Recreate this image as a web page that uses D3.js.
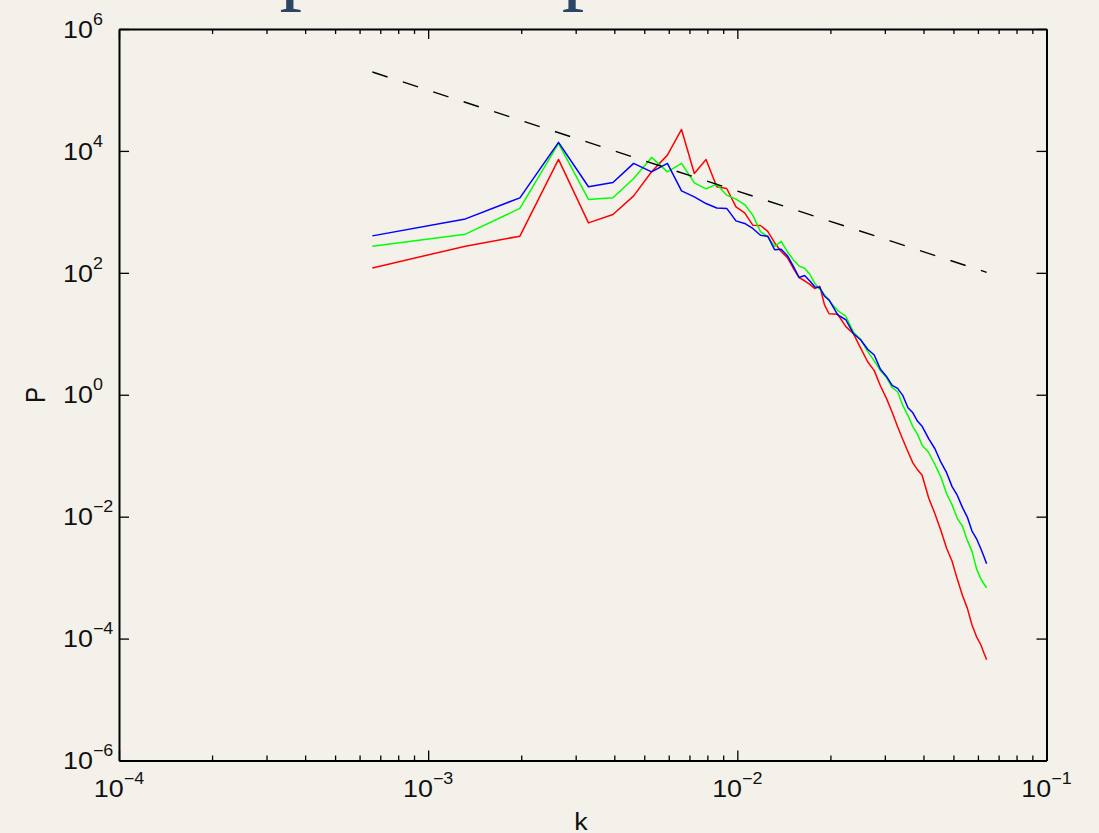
<!DOCTYPE html>
<html>
<head>
<meta charset="utf-8">
<script src="https://cdn.jsdelivr.net/npm/d3@7"></script>
<style>
  html, body { margin: 0; padding: 0; background: #f4f1eb; }
  svg { display: block; }
  text { font-family: "Liberation Sans", Arial, Helvetica, sans-serif; fill: #111; }
</style>
</head>
<body>
<svg id="chart" width="1099" height="833"></svg>
<script>
// Wavenumbers (shared by all three spectra)
const k = [
  6.6e-4, 1.32e-3, 1.98e-3, 2.64e-3, 3.30e-3, 3.96e-3, 4.62e-3, 5.28e-3, 5.94e-3, 6.60e-3,
  7.26e-3, 7.92e-3, 8.58e-3, 9.24e-3, 9.90e-3, 1.056e-2, 1.122e-2, 1.188e-2, 1.254e-2, 1.320e-2,
  1.386e-2, 1.452e-2, 1.518e-2, 1.584e-2, 1.650e-2, 1.716e-2, 1.782e-2, 1.848e-2, 1.914e-2, 1.980e-2,
  2.112e-2, 2.244e-2, 2.376e-2, 2.508e-2, 2.640e-2, 2.772e-2, 2.904e-2, 3.036e-2, 3.168e-2, 3.300e-2,
  3.432e-2, 3.564e-2, 3.696e-2, 3.828e-2, 3.960e-2,
  4.158e-2, 4.356e-2, 4.554e-2, 4.752e-2, 4.950e-2, 5.148e-2, 5.346e-2, 5.544e-2, 5.742e-2, 5.940e-2,
  6.138e-2, 6.270e-2, 6.402e-2
];

// Power spectra P(k)
const pRed = [
  120, 274, 399, 7250, 659, 906, 1830, 4540, 8530, 22500,
  4270, 7250, 2580, 2420, 1210, 964, 605, 597, 480, 312,
  224, 177, 118, 83.4, 74.1, 64.5, 55.2, 60.3, 29.8, 21.3,
  20.9, 13.1, 10.0, 5.78, 3.48, 2.49, 1.39, 0.873, 0.518, 0.299,
  0.183, 0.116, 0.0762, 0.0586, 0.0479,
  0.0203, 0.0112, 0.00593, 0.00303, 0.00186, 0.000937, 0.000514, 0.000316, 0.000167, 0.000107,
  7.85e-5, 5.85e-5, 4.49e-5
];
const pGreen = [
  274, 431, 1140, 13300, 1600, 1700, 3530, 7820, 4540, 6240,
  2990, 2390, 2850, 1880, 1620, 1320, 883, 475, 392, 270,
  329, 222, 163, 129, 119, 94.8, 66.7, 53.8, 43.7, 35.0,
  24.0, 19.4, 10.6, 8.05, 5.14, 3.59, 2.48, 1.93, 1.31, 1.12,
  0.662, 0.454, 0.299, 0.224, 0.148,
  0.113, 0.0718, 0.0446, 0.0238, 0.0156, 0.00931, 0.00703, 0.00408, 0.00270, 0.00139,
  0.000944, 0.000794, 0.000681
];
const pBlue = [
  404, 767, 1700, 13800, 2580, 3040, 6240, 4540, 6240, 2210,
  1760, 1370, 1160, 1140, 711, 645, 534, 414, 399, 239,
  244, 191, 128, 83.8, 90.6, 73.6, 58.6, 57.4, 41.3, 36.1,
  20.4, 17.0, 10.0, 7.91, 5.57, 4.49, 2.61, 2.00, 1.43, 1.27,
  0.966, 0.612, 0.506, 0.366, 0.303,
  0.191, 0.130, 0.0782, 0.0526, 0.0311, 0.0223, 0.0142, 0.00984, 0.00581, 0.00434,
  0.00294, 0.00224, 0.00169
];

// Reference power law (dashed), given by its two end points
const kRef = [6.6e-4, 6.402e-2];
const pRef = [1.97e5, 1.02e2];

// Decade exponents used for tick labels
const xTickExps = [-4, -3, -2, -1];
const yTickExps = [6, 4, 2, 0, -2, -4, -6];

const W = 1099, H = 833;
const svg = d3.select("#chart");
svg.append("rect").attr("width", W).attr("height", H).attr("fill", "#f4f1eb");

// Slide heading (sits mostly above the top edge)
svg.append("text")
  .attr("x", 117).attr("y", -7.5)
  .style("font-family", '"Liberation Serif", "Times New Roman", serif')
  .style("font-size", "90px")
  .style("fill", "#2d4565")
  .text("The power spectrum");

const x = d3.scaleLog().domain([1e-4, 1e-1]).range([119, 1046.5]);
const y = d3.scaleLog().domain([1e-6, 1e6]).range([760.5, 29]);

const xMajor = xTickExps.map(e => Math.pow(10, e));
const xMinor = [];
xTickExps.slice(0, -1).forEach(e => {
  for (let m = 2; m <= 9; m++) xMinor.push(m * Math.pow(10, e));
});
const yMajor = yTickExps.map(e => Math.pow(10, e));

function styleAxis(g, keepDomain) {
  if (keepDomain) g.select(".domain").attr("stroke", "#000").attr("stroke-width", 2);
  else g.select(".domain").remove();
  g.selectAll(".tick line").attr("stroke", "#000").attr("stroke-width", 1.3);
  g.selectAll(".tick text").remove();
}

const [x0, x1] = x.range();
const [yb, yt] = y.range();

// Box axes with inward ticks
svg.append("g").attr("transform", `translate(0,${yb})`)
  .call(d3.axisBottom(x).tickValues(xMajor).tickSizeInner(-10).tickSizeOuter(0))
  .call(g => styleAxis(g, true));
svg.append("g").attr("transform", `translate(0,${yb})`)
  .call(d3.axisBottom(x).tickValues(xMinor).tickSizeInner(-5).tickSizeOuter(0))
  .call(g => styleAxis(g, false));
svg.append("g").attr("transform", `translate(0,${yt})`)
  .call(d3.axisTop(x).tickValues(xMajor).tickSizeInner(-10).tickSizeOuter(0))
  .call(g => styleAxis(g, true));
svg.append("g").attr("transform", `translate(0,${yt})`)
  .call(d3.axisTop(x).tickValues(xMinor).tickSizeInner(-5).tickSizeOuter(0))
  .call(g => styleAxis(g, false));
svg.append("g").attr("transform", `translate(${x0},0)`)
  .call(d3.axisLeft(y).tickValues(yMajor).tickSizeInner(-10).tickSizeOuter(0))
  .call(g => styleAxis(g, true));
svg.append("g").attr("transform", `translate(${x1},0)`)
  .call(d3.axisRight(y).tickValues(yMajor).tickSizeInner(-10).tickSizeOuter(0))
  .call(g => styleAxis(g, true));

// Spectra
const line = d3.line().x(d => x(d[0])).y(d => y(d[1]));
const series = [
  { p: pRed, color: "#ff0000" },
  { p: pGreen, color: "#00ff00" },
  { p: pBlue, color: "#0000ff" }
];
series.forEach(s => {
  svg.append("path")
    .datum(k.map((kv, i) => [kv, s.p[i]]))
    .attr("d", line)
    .attr("fill", "none")
    .attr("stroke", s.color)
    .attr("stroke-width", 1.5)
    .attr("stroke-linejoin", "round");
});

svg.append("path")
  .datum(kRef.map((kv, i) => [kv, pRef[i]]))
  .attr("d", line)
  .attr("fill", "none")
  .attr("stroke", "#000")
  .attr("stroke-width", 1.4)
  .attr("stroke-dasharray", "16,16");

// Tick labels as 10 with a superscript exponent
const expText = e => (e < 0 ? "\u2212" + (-e) : String(e));
xTickExps.forEach(e => {
  const t = svg.append("g")
    .attr("transform", `translate(${x(Math.pow(10, e))},${yb + 36})  scale(1.12,1)`)
    .append("text").attr("text-anchor", "middle").style("font-size", "24px");
  t.append("tspan").text("10");
  t.append("tspan").attr("dy", -13).style("font-size", "16px").text(expText(e));
});
yTickExps.forEach(e => {
  const t = svg.append("g")
    .attr("transform", `translate(63,${y(Math.pow(10, e)) + 8.7}) scale(1.12,1)`)
    .append("text").attr("text-anchor", "start").style("font-size", "24px");
  t.append("tspan").text("10");
  t.append("tspan").attr("dy", -13).style("font-size", "16px").text(expText(e));
});

// Axis titles
svg.append("g").attr("transform", "translate(45,395) scale(1.12,1) rotate(-90)")
  .append("text").attr("text-anchor", "middle").style("font-size", "24px").text("P");
svg.append("g").attr("transform", "translate(581,829.5) scale(1.12,1)")
  .append("text").attr("text-anchor", "middle").style("font-size", "24px").text("k");
</script>
</body>
</html>
